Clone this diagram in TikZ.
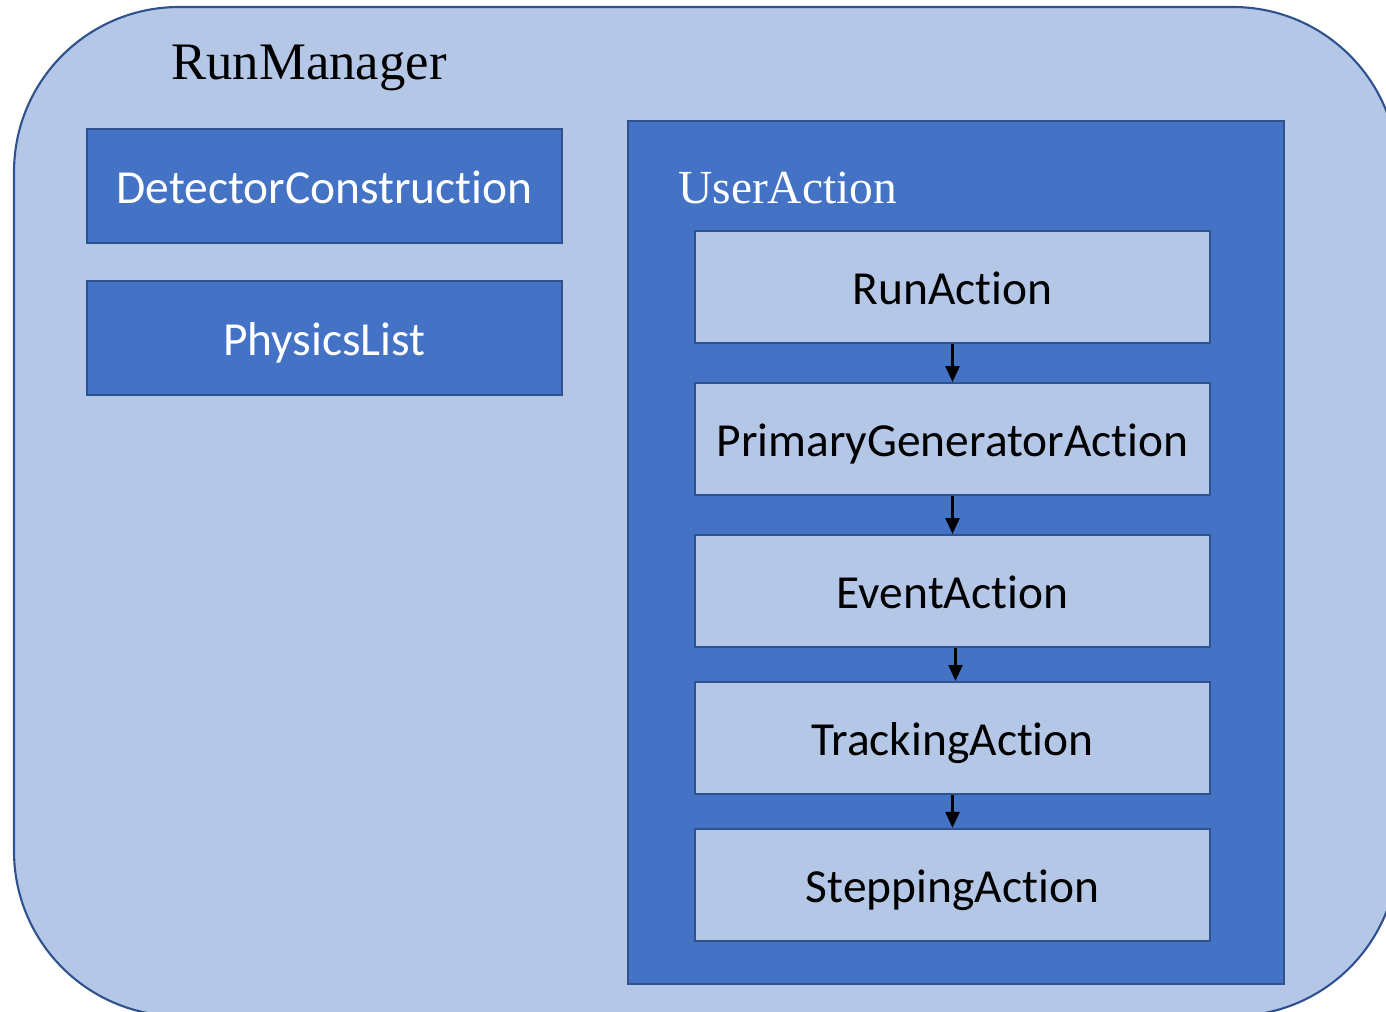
\documentclass[tikz,border=0pt]{standalone}
\usepackage{fontspec}
\setmainfont{Liberation Serif}
\newfontfamily\calibri[Ligatures=NoCommon]{Carlito}
\usetikzlibrary{positioning,arrows.meta}

\definecolor{paleblue}{HTML}{B4C7E7}
\definecolor{midblue}{HTML}{4472C4}
\definecolor{edgeblue}{HTML}{2F528F}

\begin{document}
\begin{tikzpicture}[
    darkbox/.style = {draw=edgeblue, line width=1.1pt, fill=midblue, text=white,
                      minimum width=9.5cm, minimum height=2.28cm, inner sep=0pt,
                      text height=20.4pt, text depth=0pt,
                      font=\calibri\fontsize{27}{32}\selectfont},
    lightbox/.style = {draw=edgeblue, line width=1.1pt, fill=paleblue, text=black,
                       minimum width=10.3cm, minimum height=2.24cm, inner sep=0pt,
                       text height=20.4pt, text depth=0pt,
                       font=\calibri\fontsize{27}{32}\selectfont},
    flow/.style = {line width=1.2pt, -{Triangle[width=8pt,length=9pt]}}
  ]
    \clip (0, 0) rectangle (27.72, -20.22);

    % the run manager frame, running off the page on the right and bottom
    \draw [edgeblue, line width=1.2pt, fill=paleblue, rounded corners=3.3cm]
      (0.28, -0.14) rectangle (27.96, -20.32);
    \node [anchor=base west, inner sep=0pt, font=\fontsize{30}{36}\selectfont] (rm) at (3.42, -1.58) {RunManager};

    \node [darkbox] (det) at (6.49, -3.72) {DetectorConstruction};
    \node [darkbox] (phys) at (6.49, -6.76) {PhysicsList};

    % user actions
    \draw [edgeblue, line width=1.2pt, fill=midblue] (12.56, -2.42) rectangle (25.68, -19.68);
    \node [anchor=base west, inner sep=0pt, text=white, font=\fontsize{27}{32}\selectfont] (ua) at (13.56, -4.06) {UserAction};

    \node [lightbox] (run) at (19.05, -5.74) {RunAction};
    \node [lightbox, below=0.76cm of run] (gen) {PrimaryGeneratorAction};
    \node [lightbox, below=0.76cm of gen] (event) {EventAction};
    \node [lightbox, below=0.66cm of event] (track) {TrackingAction};
    \node [lightbox, below=0.66cm of track] (stepping) {SteppingAction};

    \draw [flow] (run) -- (gen);
    \draw [flow] (gen) -- (event);
    \draw [flow] ([xshift=0.06cm]event.south) -- ([xshift=0.06cm]track.north);
    \draw [flow] (track) -- (stepping);
  \end{tikzpicture}
\end{document}
